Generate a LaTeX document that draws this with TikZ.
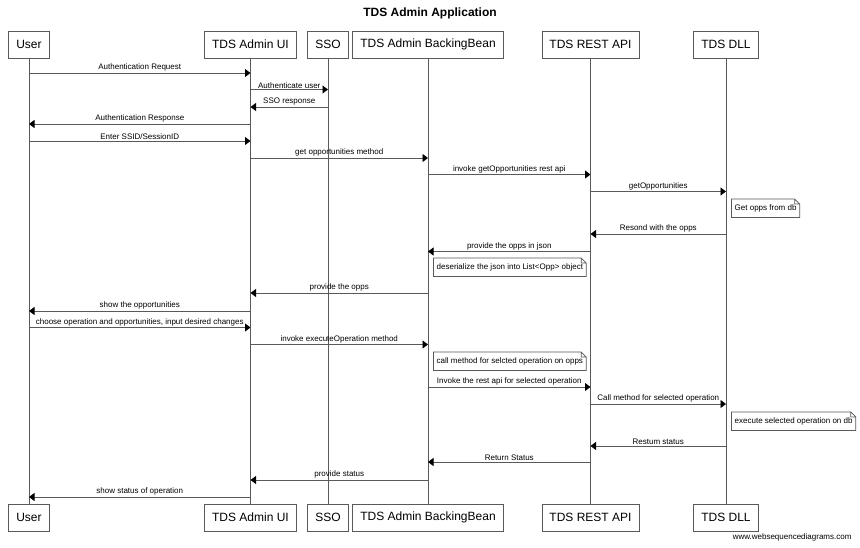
\documentclass[tikz,border=0pt]{standalone}
\usepackage{fontspec}
\setmainfont{Liberation Sans}
\usetikzlibrary{arrows.meta}
\tikzset{
  msg/.style={draw=black!65,line width=0.8pt,-{Triangle[length=5.5pt,width=8pt,color=black]}},
  msglabel/.style={above,inner sep=1pt,font=\fontsize{8}{9}\selectfont},
  note/.style={anchor=north west,fill=white,inner xsep=3pt,inner ysep=0pt,minimum height=18pt,font=\fontsize{8}{9}\selectfont},
  fold/.style={draw=black!65,line width=0.7pt}
}
\begin{document}
\begin{tikzpicture}[x=1pt,y=-1pt]
    \useasboundingbox (0,0) rectangle (860,547);
    \node[font=\bfseries\fontsize{12}{14}\selectfont] (title) at (430,13) {TDS Admin Application};
    \begin{scope}
        \begin{scope}[every node/.style={draw=black!65,fill=white,line width=0.7pt,minimum height=27pt,inner xsep=7.5pt,font=\fontsize{12}{14}\selectfont}]
          \node (user) at (29,44.5) {User};
          \node (ui) at (250.5,44.5) {TDS Admin UI};
          \node (sso) at (328,44.5) {SSO};
          \node (bb) at (428,44.5) {TDS Admin BackingBean};
          \node (rest) at (590.5,44.5) {TDS REST API};
          \node (dll) at (726,44.5) {TDS DLL};
          \node (userB) at (29,517.5) {User};
          \node (uiB) at (250.5,517.5) {TDS Admin UI};
          \node (ssoB) at (328,517.5) {SSO};
          \node (bbB) at (428,517.5) {TDS Admin BackingBean};
          \node (restB) at (590.5,517.5) {TDS REST API};
          \node (dllB) at (726,517.5) {TDS DLL};
        \end{scope}
        \begin{scope}[every edge/.style={draw=black!65,line width=0.8pt}]
            \path (user) edge (userB)
                  (ui) edge (uiB)
                  (sso) edge (ssoB)
                  (bb) edge (bbB)
                  (rest) edge (restB)
                  (dll) edge (dllB);
        \end{scope}
    \end{scope}
    % messages: from/to/y/label
    \foreach \a/\b/\y/\txt in {
        user/ui/73/{Authentication Request},
        ui/sso/89.5/{Authenticate user},
        sso/ui/107/{SSO response},
        ui/user/124/{Authentication Response},
        user/ui/141/{Enter SSID/SessionID},
        ui/bb/158/{get opportunities method},
        bb/rest/174.5/{invoke getOpportunities rest api},
        rest/dll/191.5/{getOpportunities},
        dll/rest/234/{Resond with the opps},
        rest/bb/251.5/{provide the opps in json},
        bb/ui/293/{provide the opps},
        ui/user/311/{show the opportunities},
        user/ui/327.5/{choose operation and opportunities, input desired changes},
        ui/bb/344.5/{invoke executeOperation method},
        bb/rest/387/{Invoke the rest api for selected operation},
        rest/dll/404/{Call method for selected operation},
        dll/rest/446/{Restum status},
        rest/bb/462/{Return Status},
        bb/ui/480/{provide status},
        ui/user/497/{show status of operation}}
        \draw[msg] (\a |- 0,\y) -- (\b |- 0,\y) node[midway,msglabel] {\txt};
    % notes
    \foreach \a/\y/\n/\txt in {
        dll/199/n1/{Get opps from db},
        bb/258/n2/{deserialize the json into List<Opp> object},
        bb/352/n3/{call method for selcted operation on opps},
        dll/412/n4/{execute selected operation on db}}
    {
        \node[note] (\n) at ([xshift=5.5pt]\a |- 0,\y) {\txt};
        \draw[fold] (\n.north west) -- ([xshift=-5pt]\n.north east) -- ([yshift=-5pt]\n.north east)
              -- (\n.south east) -- (\n.south west) -- cycle
              ([xshift=-5pt]\n.north east) |- ([yshift=-5pt]\n.north east);
    }
    \node[anchor=east,font=\fontsize{8}{9}\selectfont] (credit) at (855,537) {www.websequencediagrams.com};
\end{tikzpicture}
\end{document}
